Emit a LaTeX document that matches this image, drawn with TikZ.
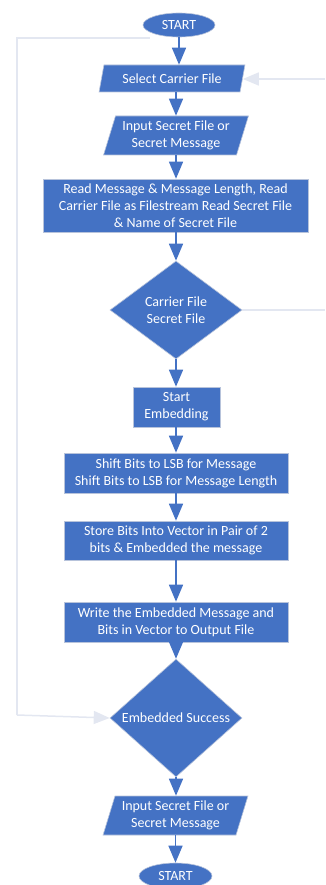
\documentclass[tikz,border=0pt]{standalone}
\usepackage{fontspec}
\setmainfont{Carlito}
\usetikzlibrary{shapes.geometric,arrows.meta}
\definecolor{boxblue}{HTML}{4472C4}
\definecolor{boxedge}{HTML}{B7C3DB}
\definecolor{loopline}{HTML}{E3E7F1}
\tikzset{
  base/.style={fill=boxblue, draw=boxedge, line width=0.6pt, text=white, inner sep=0pt,
    align=center, font=\fontsize{14}{17}\selectfont},
  term/.style={base, ellipse},
  io/.style={base, trapezium, trapezium left angle=70, trapezium right angle=110,
    trapezium stretches=true},
  proc/.style={base, rectangle},
  decide/.style={base, diamond, minimum width=132pt, minimum height=98pt},
  arr/.style={draw=boxblue, line width=1.5pt, -{Triangle[width=14pt,length=17pt]}},
  back/.style={draw=loopline, line width=1.5pt},
  backarr/.style={back, -{Triangle[width=13pt,length=16pt]}},
}
\begin{document}
\begin{tikzpicture}[x=1pt,y=-1pt]
\useasboundingbox (0,0) rectangle (325,885);

% return paths
\coordinate (loopTop) at (150,38);
\coordinate (loopTL) at (17,38);
\coordinate (loopBL) at (17,715);
\coordinate (rightIn) at (325,79);
\coordinate (rightOut) at (325,310);

% main flow
\node[term, minimum width=72pt, minimum height=24pt] (start) at (179,25) {START};
\node[io, minimum width=146pt, minimum height=27pt] (sel) at (172,78.5) {Select Carrier File};
\node[io, minimum width=145pt, minimum height=39pt] (inp) at (176,135.5) {Input Secret File or\\Secret Message};
\node[proc, minimum width=265pt, minimum height=53pt] (read) at (175.5,205.5)
  {Read Message \& Message Length, Read\\Carrier File as Filestream Read Secret File\\\& Name of Secret File};
\node[decide] (car) at (176,310) {Carrier File\\Secret File};
\node[proc, minimum width=87pt, minimum height=40pt] (emb) at (176.5,407) {Start\\Embedding};
\node[proc, minimum width=224pt, minimum height=40pt] (shift) at (176,473)
  {Shift Bits to LSB for Message\\Shift Bits to LSB for Message Length};
\node[proc, minimum width=224pt, minimum height=39pt] (store) at (176,540.5)
  {Store Bits Into Vector in Pair of 2\\bits \& Embedded the message};
\node[proc, minimum width=224pt, minimum height=40pt] (write) at (176,622)
  {Write the Embedded Message and\\Bits in Vector to Output File};
\node[decide] (succ) at (176,718) {Embedded Success};
\node[io, minimum width=145pt, minimum height=39pt] (inp2) at (175.5,815.5) {Input Secret File or\\Secret Message};
\node[term, minimum width=73pt, minimum height=26pt] (stop) at (175.5,876) {START};

\draw[back] (loopTop) -- (loopTL) -- (loopBL);
\draw[backarr] (loopBL) -- (succ.west);
\draw[backarr] (rightIn) -- (rightIn -| sel.east);
\draw[back] (car.east) -- (rightOut);

\draw[arr] (start.south) -- (start.south |- sel.north);
\draw[arr] (inp.north |- sel.south) -- (inp.north);
\draw[arr] (inp.south) -- (inp.south |- read.north);
\draw[arr] (car.north |- read.south) -- (car.north);
\draw[arr] (car.south) -- (emb.north -| car.south);
\draw[arr] (emb.south -| shift.north) -- (shift.north);
\draw[arr] (shift.south) -- (store.north);
\draw[arr] (store.south) -- (write.north);
\draw[arr] (write.south) -- (succ.north);
\draw[arr] (succ.south) -- (succ.south |- inp2.north);
\draw[arr] (stop.north |- inp2.south) -- (stop.north);
\end{tikzpicture}
\end{document}
